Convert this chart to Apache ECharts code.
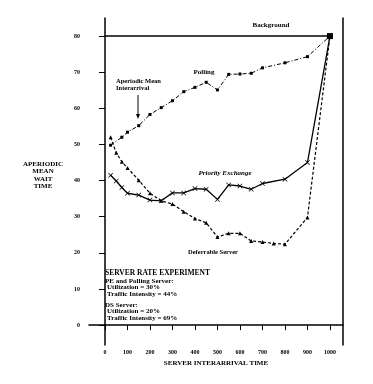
<!DOCTYPE html>
<html><head><meta charset="utf-8">
<script src="https://cdn.jsdelivr.net/npm/echarts@6/dist/echarts.min.js"></script>
<style>html,body{margin:0;padding:0;background:#fff}#c{width:373px;height:384px}</style>
</head><body><div id="c"></div>
<script>
const xTicks = [0,100,200,300,400,500,600,700,800,900,1000];
const yTicks = [0,10,20,30,40,50,60,70,80];

const backgroundX = [0,1000];
const backgroundY = [80,80];

const pollingX = [25,75,100,150,200,250,300,350,400,450,500,550,600,650,700,800,900,1000];
const pollingY = [49.8,52,53.4,55.2,58.3,60.2,62.1,64.6,65.8,67.2,65.1,69.4,69.5,69.7,71.2,72.6,74.3,80];

const peX = [25,50,75,100,150,200,250,300,350,400,450,500,550,600,650,700,800,900,1000];
const peY = [41.5,39.9,38.1,36.5,36,34.6,34.4,36.6,36.6,37.8,37.6,34.8,38.8,38.5,37.6,39.2,40.4,45,80];

const dsX = [25,50,75,100,150,200,250,300,350,400,450,500,550,600,650,700,750,800,900,1000];
const dsY = [52,47.7,45.2,43.5,40.1,36.5,34.4,33.5,31.4,29.5,28.3,24.4,25.4,25.4,23.3,23,22.6,22.4,29.8,80];

const pair = (xs, ys) => xs.map((x, i) => [x, ys[i]]);
const F = '"Liberation Serif", "DejaVu Serif", serif';
const txt = (x, y, s, opt) => ({
  type: 'text', x: x, y: y,
  style: Object.assign({ text: s, font: 'bold 7px ' + F, fill: '#000', textAlign: 'left', textVerticalAlign: 'middle' }, opt || {})
});
const xMark = 'path://M0,1L1,0L5,4L9,0L10,1L6,5L10,9L9,10L5,6L1,10L0,9L4,5Z';

const chart = echarts.init(document.getElementById('c'), null, { renderer: 'canvas' });
chart.setOption({
  animation: false,
  backgroundColor: '#fff',
  grid: { left: 89, right: 30, top: 18, bottom: 39 },
  xAxis: {
    type: 'value', min: -71, max: 1058,
    axisLine: { show: true, lineStyle: { color: '#000', width: 1.5 } },
    axisTick: { show: true, customValues: xTicks, length: 5, inside: false, lineStyle: { color: '#000', width: 1 } },
    axisLabel: { customValues: xTicks, formatter: (v) => String(v), fontSize: 6, fontWeight: 'bold', fontFamily: F, color: '#000', margin: 4 },
    splitLine: { show: false },
    name: 'SERVER INTERARRIVAL TIME', nameLocation: 'middle', nameGap: 15,
    nameTextStyle: { fontSize: 7, fontWeight: 'bold', fontFamily: F, color: '#000' }
  },
  yAxis: [{
    type: 'value', min: -5.5, max: 85,
    axisLine: { show: true, lineStyle: { color: '#000', width: 1.5 } },
    axisTick: { show: true, customValues: yTicks, length: 6, lineStyle: { color: '#000', width: 1 } },
    axisLabel: { customValues: yTicks, formatter: (v) => String(v), fontSize: 6, fontWeight: 'bold', fontFamily: F, color: '#000', margin: 9 },
    splitLine: { show: false }
  }, {
    type: 'value', min: -5.5, max: 85, position: 'right',
    axisLine: { show: true, lineStyle: { color: '#000', width: 1.5 } },
    axisTick: { show: false }, axisLabel: { show: false }, splitLine: { show: false }
  }],
  series: [
    { name: 'Background', type: 'line', data: pair(backgroundX, backgroundY), symbol: 'none',
      lineStyle: { color: '#000', width: 1.6 } },
    { name: 'Polling', type: 'line', data: pair(pollingX, pollingY), symbol: 'rect',
      symbolSize: (v) => v[0] === 1000 ? 6 : 3,
      itemStyle: { color: '#000' },
      lineStyle: { color: '#000', width: 1, type: [4, 2, 1, 2] } },
    { name: 'Priority Exchange', type: 'line', data: pair(peX, peY), symbol: xMark, symbolSize: 5,
      itemStyle: { color: '#000' },
      lineStyle: { color: '#000', width: 1.3 } },
    { name: 'Deferrable Server', type: 'line', data: pair(dsX, dsY), symbol: 'triangle', symbolSize: 4,
      itemStyle: { color: '#000' },
      lineStyle: { color: '#000', width: 1.2, type: [3, 2] } }
  ],
  graphic: [
    txt(271, 25, 'Background', { textAlign: 'center' }),
    txt(204, 72, 'Polling', { textAlign: 'center' }),
    txt(116, 81, 'Aperiodic Mean', { font: 'bold 6.5px ' + F }),
    txt(116, 88, 'Interarrival', { font: 'bold 6.5px ' + F }),
    { type: 'line', shape: { x1: 138, y1: 95, x2: 138, y2: 116 }, style: { stroke: '#000', lineWidth: 1 } },
    { type: 'polygon', shape: { points: [[136, 114], [140, 114], [138, 119]] }, style: { fill: '#000' } },
    txt(225, 173, 'Priority Exchange', { textAlign: 'center', font: 'italic bold 7px ' + F }),
    txt(213, 252, 'Deferrable Server', { textAlign: 'center', font: 'bold 6.5px ' + F }),
    txt(105, 273, 'SERVER RATE EXPERIMENT', { font: 'bold 7.5px ' + F }),
    txt(105, 281, 'PE and Polling Server:'),
    txt(107, 287.5, 'Utilization = 30%'),
    txt(107, 294, 'Traffic Intensity = 44%'),
    txt(105, 305, 'DS Server:'),
    txt(107, 311.5, 'Utilization = 20%'),
    txt(107, 318, 'Traffic Intensity = 69%'),
    txt(43, 164, 'APERIODIC', { textAlign: 'center' }),
    txt(43, 171.5, 'MEAN', { textAlign: 'center' }),
    txt(43, 179, 'WAIT', { textAlign: 'center' }),
    txt(43, 186.5, 'TIME', { textAlign: 'center' })
  ]
});
</script></body></html>
